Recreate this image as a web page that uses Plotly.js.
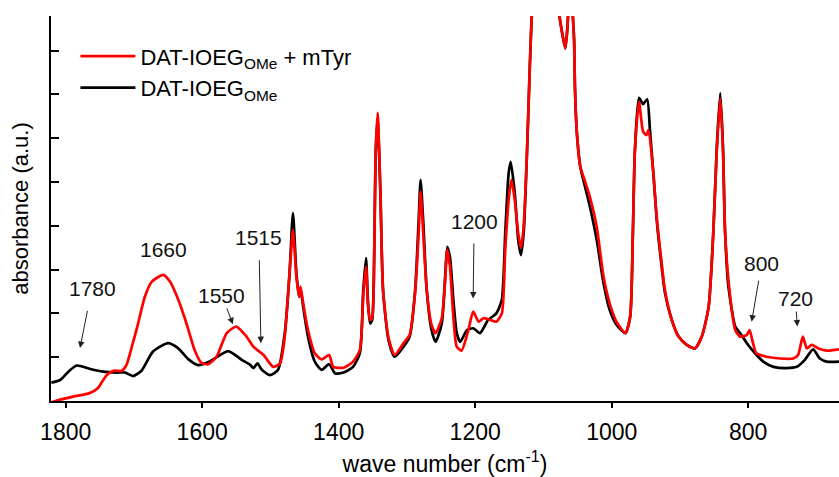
<!DOCTYPE html>
<html>
<head>
<meta charset="utf-8">
<script src="https://cdn.plot.ly/plotly-3.0.1.min.js"></script>
<style>
  html, body { margin: 0; padding: 0; background: #fff; }
  #chart { width: 839px; height: 477px; }
</style>
</head>
<body>
<div id="chart"></div>
<script>
// Wave numbers (cm^-1) and absorbance (a.u.)
const wnBlack = [1821,1808,1796,1784,1764,1745,1725,1713,1701,1689,1672,1650,1635,1620,1606,1589,1562,1542,1530,1525,1519,1513,1501,1489,1479,1472,1467,1462,1458,1456,1452,1445,1435,1425,1414,1405,1393,1379,1369,1364,1360,1357,1354,1351,1348,1346,1343,1339,1335,1327,1318,1305,1296,1288,1283,1280,1276,1271,1264,1258,1249,1244,1241,1237,1232,1227,1222,1212,1203,1193,1181,1169,1161,1156,1151,1148,1142,1137,1133,1129,1124,1120,1117,1110,1095,1082,1077,1072,1068,1065,1062,1059,1057,1055,1054,1051,1046,1039,1032,1022,1012,1003,993,980,973,969,966,960,954,948,944,939,934,929,922,912,902,890,878,868,858,851,846,841,837,834,829,819,812,802,790,778,763,744,729,717,705,695,685,667];
const absBlack = [0.42,0.48,0.67,0.81,0.73,0.67,0.65,0.65,0.57,0.69,1.13,1.32,1.20,0.95,0.82,0.90,1.14,0.94,0.83,0.75,0.86,0.72,0.59,0.71,1.55,2.92,4.29,2.92,2.38,2.57,2.15,1.47,0.90,0.71,0.84,0.63,0.65,0.78,1.09,2.53,3.26,2.23,1.77,1.85,3.29,5.58,6.45,4.82,2.53,1.39,1.01,1.24,1.47,2.53,4.06,5.05,4.06,2.53,1.62,1.35,1.77,2.84,3.52,3.29,2.31,1.55,1.35,1.62,1.66,1.55,1.85,2.00,2.31,3.83,5.20,5.46,4.74,3.68,3.33,3.83,5.73,7.63,8.81,10.2,11.0,10.0,8.85,8.35,8.05,8.5,9.2,9.3,8.8,8.2,7.25,6.11,5.35,4.89,4.44,3.68,2.69,2.08,1.74,1.55,1.92,3.83,5.73,6.92,6.78,6.89,6.19,5.20,4.13,3.37,2.47,1.85,1.47,1.28,1.20,1.47,2.15,3.90,5.81,7.03,5.81,3.90,2.61,1.70,1.55,1.32,1.09,0.90,0.78,0.75,0.78,0.94,1.18,0.97,0.90,0.90];

const wnRed = [1821,1813,1789,1765,1753,1745,1740,1730,1718,1711,1703,1695,1684,1674,1657,1647,1635,1623,1611,1601,1591,1579,1564,1550,1535,1525,1510,1496,1486,1479,1471,1467,1462,1458,1456,1452,1445,1435,1425,1414,1408,1393,1379,1369,1364,1360,1357,1354,1351,1348,1346,1343,1339,1335,1327,1318,1305,1296,1288,1283,1280,1276,1271,1264,1258,1249,1244,1241,1237,1232,1227,1220,1210,1203,1195,1188,1178,1169,1161,1156,1151,1147,1142,1137,1133,1129,1124,1120,1117,1110,1095,1082,1077,1072,1068,1065,1062,1059,1057,1055,1054,1051,1046,1039,1032,1022,1012,1003,993,980,973,969,966,960,954,949,946,939,934,929,922,912,902,890,878,868,858,851,846,841,837,834,829,819,812,802,798,793,788,773,753,734,727,720,714,707,697,685,667];
const absRed = [-0.03,0.01,0.10,0.18,0.29,0.48,0.59,0.69,0.69,0.82,1.24,1.70,2.38,2.72,2.88,2.72,2.31,1.77,1.16,0.87,0.84,1.01,1.55,1.70,1.47,1.24,1.05,0.78,0.86,1.47,3.14,3.90,2.84,2.38,2.61,2.23,1.62,1.09,0.95,1.05,0.78,0.76,0.90,1.16,2.42,3.07,2.19,1.85,1.89,3.29,5.58,6.58,4.82,2.53,1.44,1.05,1.32,1.51,2.47,3.79,4.78,3.79,2.53,1.74,1.55,1.89,2.76,3.45,3.07,1.92,1.24,1.15,1.62,2.04,1.81,1.89,1.85,1.81,2.00,3.45,4.59,5.05,4.59,3.83,3.49,3.98,5.73,7.63,8.81,10.2,11.0,10.0,8.85,8.35,8.05,8.5,9.2,9.3,8.8,8.2,7.25,6.11,5.35,5.01,4.66,3.98,2.84,2.23,1.81,1.55,1.92,3.83,5.73,6.83,6.15,6.07,6.19,5.20,4.18,3.45,2.53,1.85,1.47,1.28,1.20,1.47,2.15,3.90,5.73,6.91,5.73,3.90,2.76,1.62,1.47,1.51,1.62,1.32,1.09,1.01,0.97,0.97,1.05,1.47,1.20,1.28,1.20,1.15,1.18];

const seriesNames = ['DAT-IOEG<sub>OMe</sub> + mTyr', 'DAT-IOEG<sub>OMe</sub>'];
const xMajorTicks = [1800,1600,1400,1200,1000,800];
const xMinorTicks = [1700,1500,1300,1100,900,700];
const xAllTicks = [1800,1700,1600,1500,1400,1300,1200,1100,1000,900,800,700];
const yTickVals = [1,2,3,4,5,6,7,8];

// Band labels: [text, arrow tip x (cm^-1), arrow tip y (a.u.), label offset dx, dy (px), gap, hasArrow]
const bandLabels = [
  ['1780', 1779, 1.21, 12, -60, 10, true],
  ['1660', 1656, 3.45, 0, 0, 0, false],
  ['1550', 1555, 1.75, -11, -29, 0, true],
  ['1515', 1514, 1.32, -2, -106, 10, true],
  ['1200', 1203, 2.34, 1, -77, 9, true],
  ['800', 795, 1.81, 10, -58, 4, true],
  ['720', 728, 1.70, -2, -28, 0, true]
];

const FONT = 'Liberation Sans, Arial, sans-serif';

const traces = [
  {x: wnBlack, y: absBlack, name: seriesNames[1], type: 'scatter', mode: 'lines',
   line: {color: '#000000', width: 2.7, shape: 'spline', smoothing: 0.6}},
  {x: wnRed, y: absRed, name: seriesNames[0], type: 'scatter', mode: 'lines',
   line: {color: '#ff0000', width: 2.7, shape: 'spline', smoothing: 0.6}}
];

const annotations = bandLabels.map(b => ({
  x: b[1], y: b[2], xref: 'x', yref: 'y', text: b[0],
  showarrow: b[6], ax: b[3], ay: b[4], axref: 'pixel', ayref: 'pixel',
  arrowhead: 2, arrowsize: 1.3, arrowwidth: 1, arrowcolor: '#222', startstandoff: b[5],
  font: {family: FONT, size: 21, color: '#111'}
}));

const layout = {
  width: 839, height: 477,
  margin: {l: 51, r: 0, t: 16, b: 76},
  paper_bgcolor: '#ffffff', plot_bgcolor: '#ffffff',
  font: {family: FONT, size: 22, color: '#000'},
  showlegend: true,
  legend: {x: 0.031, y: 0.95, xanchor: 'left', yanchor: 'top', traceorder: 'reversed',
    font: {family: FONT, size: 22, color: '#000'}, bgcolor: 'rgba(0,0,0,0)', itemwidth: 55, tracegroupgap: 0},
  xaxis: {range: [1821.5, 667], autorange: false, showline: true, linewidth: 2, linecolor: '#000',
    tickmode: 'array', tickvals: xMajorTicks, ticktext: xMajorTicks.map(String),
    ticks: 'outside', ticklen: 5, tickwidth: 2, tickcolor: '#000',
    ticklabelstandoff: 4,
    showgrid: false, zeroline: false, tickfont: {family: FONT, size: 23, color: '#000'},
    title: {text: 'wave number (cm<sup>-1</sup>)', font: {family: FONT, size: 23, color: '#000'}, standoff: 14}},
  xaxis3: {overlaying: 'x', anchor: 'y', side: 'bottom', range: [1821.5, 667], autorange: false,
    showline: false, ticks: 'outside', ticklen: 5, tickwidth: 2, tickcolor: '#000',
    tickmode: 'array', tickvals: xMinorTicks, showticklabels: false, showgrid: false, zeroline: false},
  xaxis2: {overlaying: 'x', anchor: 'y', side: 'top', range: [1821.5, 667], autorange: false,
    showline: true, linewidth: 2, linecolor: '#000', ticks: 'inside', ticklen: 5, tickwidth: 2, tickcolor: '#000',
    tickmode: 'array', tickvals: xAllTicks, showticklabels: false, showgrid: false, zeroline: false},
  yaxis: {range: [0, 8.79], autorange: false, showline: true, linewidth: 2, linecolor: '#000',
    ticks: 'inside', ticklen: 8, tickwidth: 2, tickcolor: '#000', tickmode: 'array', tickvals: yTickVals, showticklabels: false,
    showgrid: false, zeroline: false,
    title: {text: 'absorbance (a.u.)', font: {family: FONT, size: 22, color: '#000'}, standoff: 14}},
  annotations: annotations
};

Plotly.newPlot('chart', traces, layout, {displayModeBar: false, staticPlot: true});
</script>
</body>
</html>
